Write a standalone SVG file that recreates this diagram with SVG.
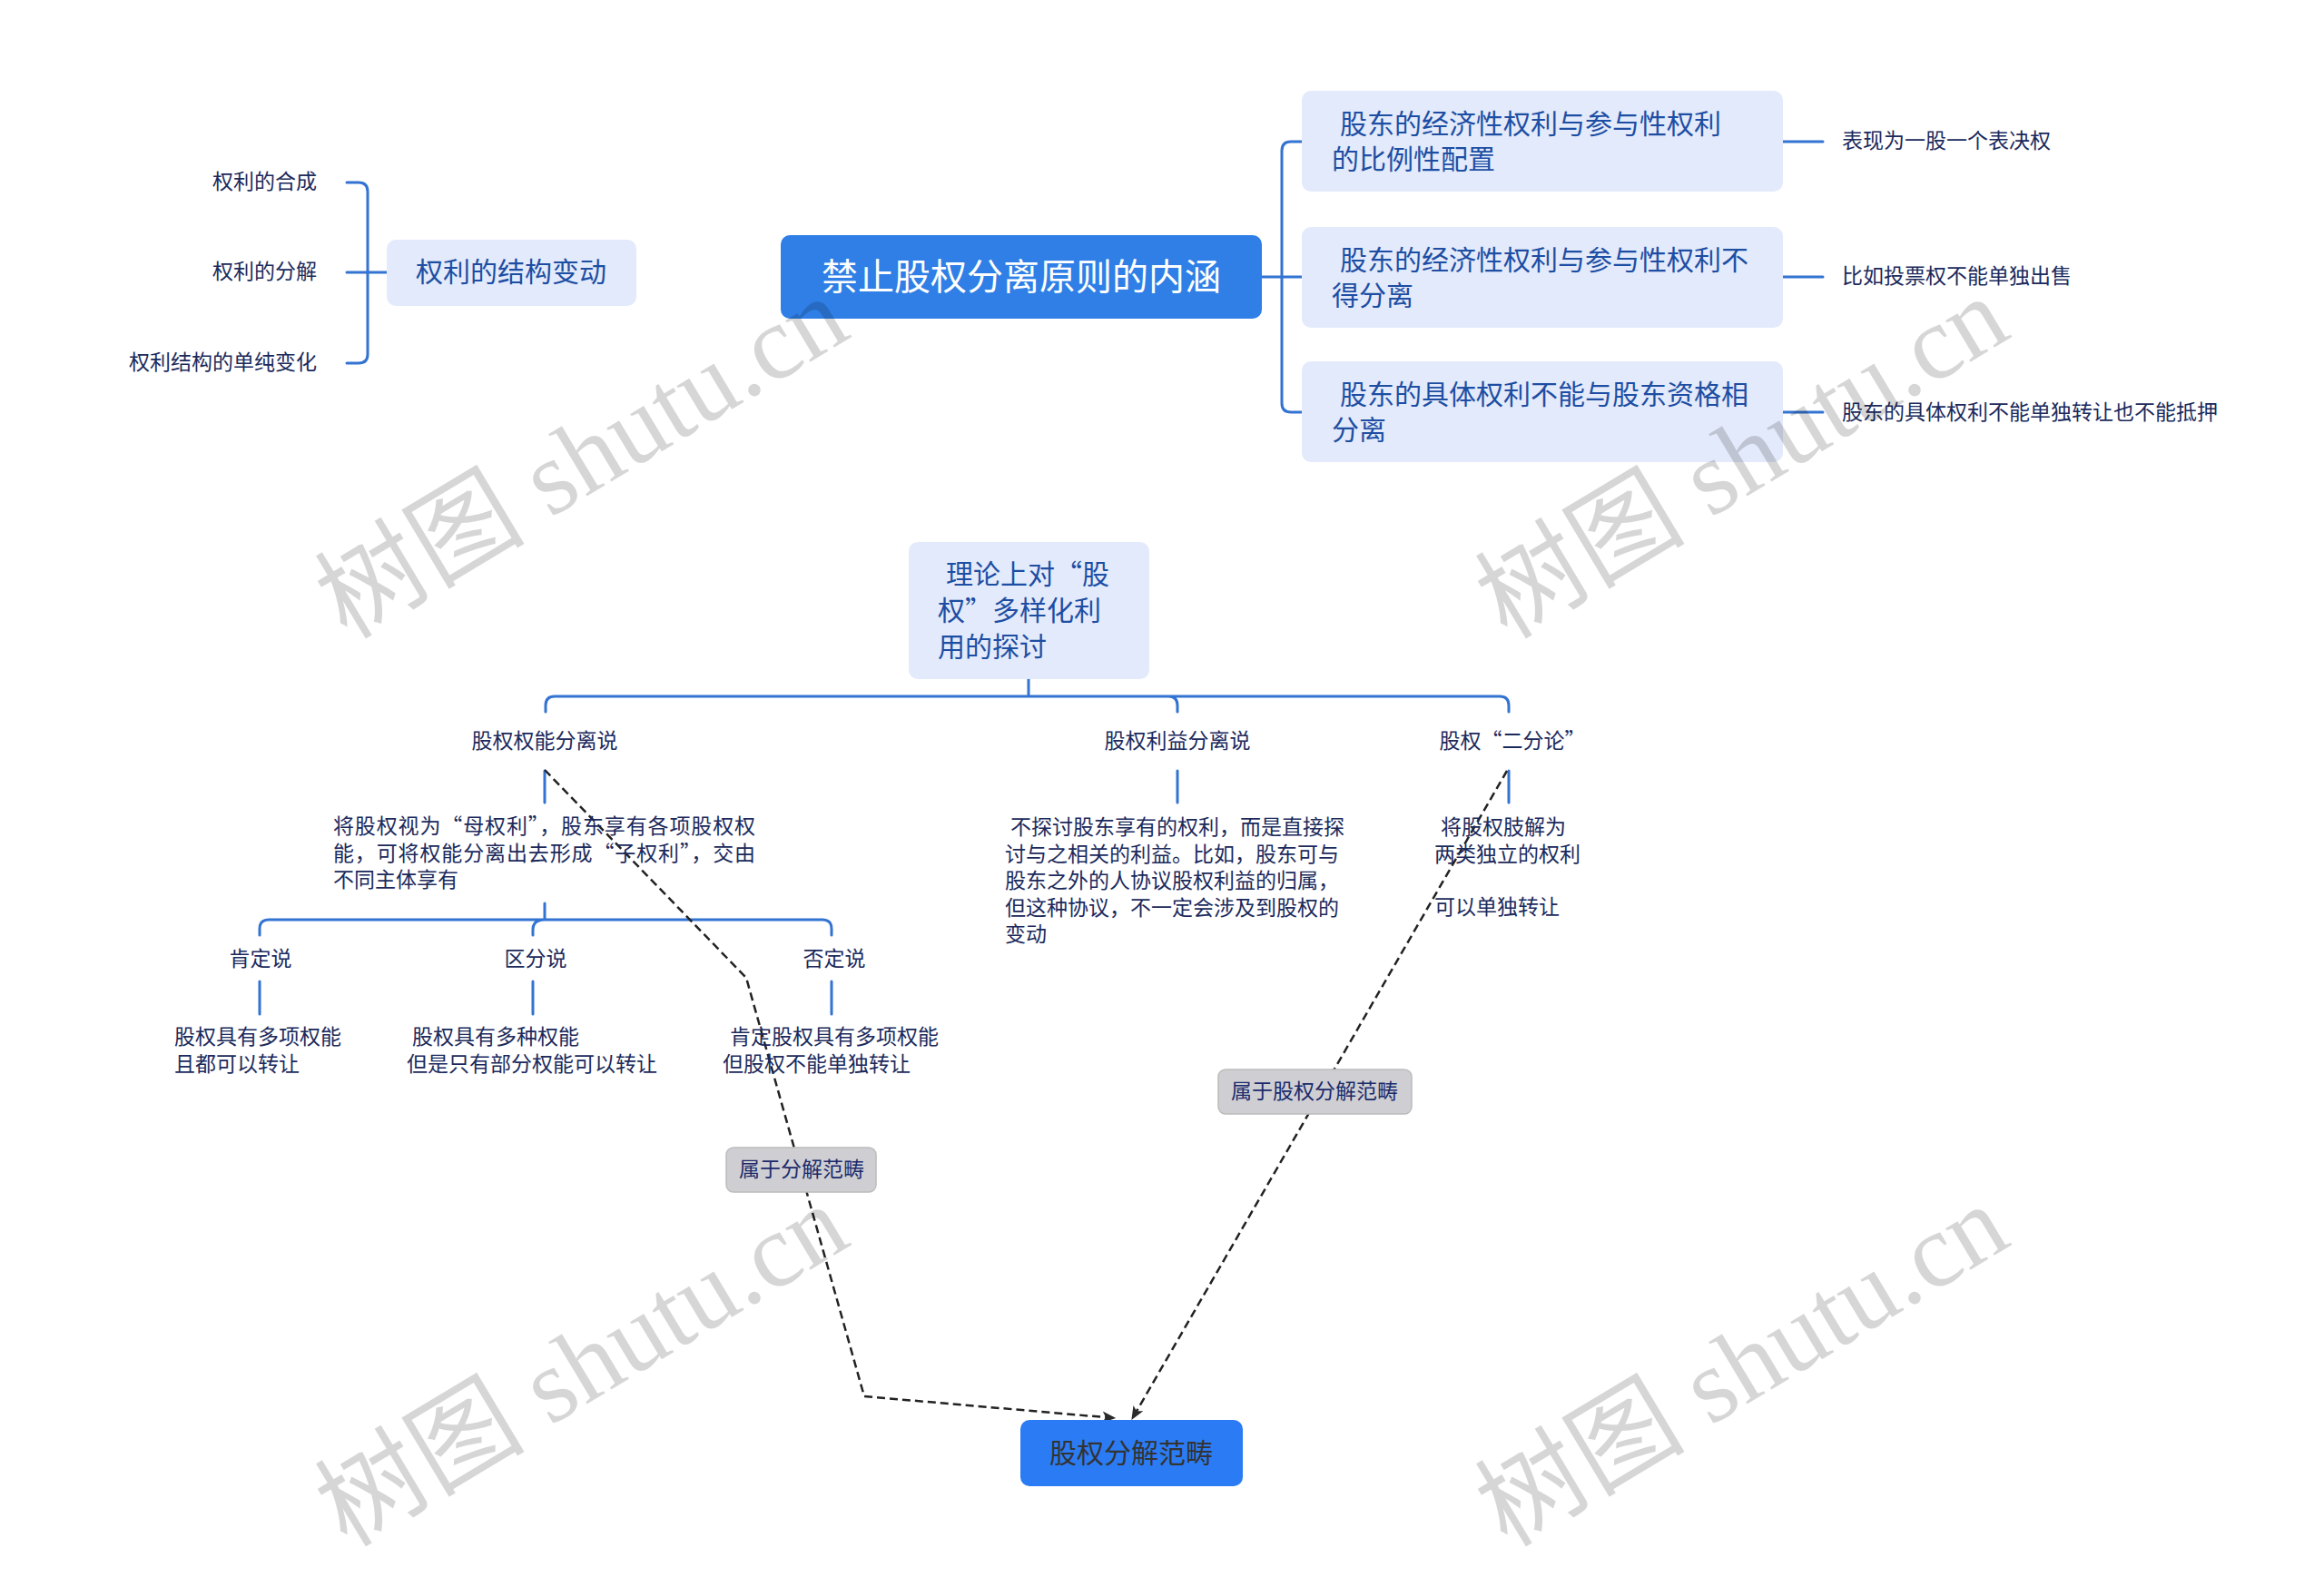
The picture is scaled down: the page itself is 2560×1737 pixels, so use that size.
<svg xmlns="http://www.w3.org/2000/svg" width="2560" height="1737" viewBox="0 0 2560 1737">
<style>
text{font-family:"Noto Sans CJK SC","Noto Sans",sans-serif;dominant-baseline:central}
.lbl,.bx,.tagt,.rt{transform:translateY(-3px)}
.lbl{font-size:23px;fill:#1b2a5c}
.bx{font-size:30px;fill:#1d4ea3}
.sub{fill:#e3eafb}
.ln{fill:none;stroke:#3373d2;stroke-width:3;stroke-linecap:round}
.dash{fill:none;stroke:#222;stroke-width:2.5;stroke-dasharray:9 5}
.tag{fill:#cfcfd3;stroke:#bcbcbc;stroke-width:1.5}
.tagt{font-size:23px;fill:#1b2a6b}
.wm{font-family:"Liberation Serif","Noto Sans CJK SC",serif;font-size:116px;fill:#000;fill-opacity:0.16}
</style>
<defs>
<marker id="arr" viewBox="0 0 12 12" refX="11" refY="6" markerWidth="15" markerHeight="15" markerUnits="userSpaceOnUse" orient="auto">
<path d="M0,1 L12,6 L0,11 L3,6 z" fill="#2a2a2a"/>
</marker>
</defs>
<rect width="2560" height="1737" fill="#fff"/>

<g id="connectors">
<path class="ln" d="M426,300 H405 M405,300 V211 Q405,201 395,201 H382 M405,300 H382 M405,300 V390 Q405,400 395,400 H382"/>
<path class="ln" d="M1390,305 H1412 M1412,305 V166 Q1412,156 1422,156 H1434 M1412,305 H1434 M1412,305 V444 Q1412,454 1422,454 H1434"/>
<path class="ln" d="M1964,156 H2008 M1964,305 H2008 M1964,454 H2008"/>
<path class="ln" d="M1133,748 V767 M1133,767 H611 Q601,767 601,777 V784 M1133,767 H1287 Q1297,767 1297,777 V784 M1133,767 H1652 Q1662,767 1662,777 V784"/>
<path class="ln" d="M600,849 V884 M1297,849 V884 M1662,849 V884"/>
<path class="ln" d="M600,995 V1013 M600,1013 H296 Q286,1013 286,1023 V1030 M600,1013 Q587,1013 587,1024 V1030 M600,1013 H906 Q916,1013 916,1023 V1030"/>
<path class="ln" d="M286,1081 V1117 M587,1081 V1117 M916,1081 V1117"/>
<path class="dash" d="M600,848 L822,1077 L952,1538 L1228,1562" marker-end="url(#arr)"/>
<path class="dash" d="M1660,849 L1247,1563" marker-end="url(#arr)"/>
</g>

<g id="root">
<rect x="860" y="259" width="530" height="92" rx="10" fill="#2f7fe6"/>
<text class="rt" x="1125" y="305" text-anchor="middle" font-size="40" fill="#fff">禁止股权分离原则的内涵</text>
</g>

<g id="n-structure">
<rect class="sub" x="426" y="264" width="275" height="73" rx="10"/>
<text class="bx" x="563" y="300" text-anchor="middle">权利的结构变动</text>
</g>
<g id="n-s1"><text class="lbl" x="349" y="201" text-anchor="end">权利的合成</text></g>
<g id="n-s2"><text class="lbl" x="349" y="300" text-anchor="end">权利的分解</text></g>
<g id="n-s3"><text class="lbl" x="349" y="400" text-anchor="end">权利结构的单纯变化</text></g>

<g id="n-r1">
<rect class="sub" x="1434" y="100" width="530" height="111" rx="10"/>
<text class="bx" x="1476" y="137">股东的经济性权利与参与性权利</text>
<text class="bx" x="1467" y="176">的比例性配置</text>
</g>
<g id="n-r2">
<rect class="sub" x="1434" y="250" width="530" height="111" rx="10"/>
<text class="bx" x="1476" y="287">股东的经济性权利与参与性权利不</text>
<text class="bx" x="1467" y="326">得分离</text>
</g>
<g id="n-r3">
<rect class="sub" x="1434" y="398" width="530" height="111" rx="10"/>
<text class="bx" x="1476" y="435">股东的具体权利不能与股东资格相</text>
<text class="bx" x="1467" y="474">分离</text>
</g>
<g id="n-r1a"><text class="lbl" x="2029" y="156">表现为一股一个表决权</text></g>
<g id="n-r2a"><text class="lbl" x="2029" y="305">比如投票权不能单独出售</text></g>
<g id="n-r3a"><text class="lbl" x="2029" y="455">股东的具体权利不能单独转让也不能抵押</text></g>

<g id="n-theory">
<rect class="sub" x="1001" y="597" width="265" height="151" rx="10"/>
<text class="bx" x="1042" y="633">理论上对“股</text>
<text class="bx" x="1033" y="673">权”多样化利</text>
<text class="bx" x="1033" y="713">用的探讨</text>
</g>

<g id="n-t1"><text class="lbl" x="600" y="817" text-anchor="middle">股权权能分离说</text></g>
<g id="n-t2"><text class="lbl" x="1297" y="817" text-anchor="middle">股权利益分离说</text></g>
<g id="n-t3"><text class="lbl" x="1666" y="817" text-anchor="middle">股权“二分论”</text></g>

<g id="n-t1a">
<text class="lbl" x="367" y="911" textLength="465" lengthAdjust="spacing">将股权视为“母权利”，股东享有各项股权权</text>
<text class="lbl" x="367" y="941" textLength="465" lengthAdjust="spacing">能，可将权能分离出去形成“子权利”，交由</text>
<text class="lbl" x="367" y="970">不同主体享有</text>
</g>
<g id="n-t2a">
<text class="lbl" x="1113" y="912">不探讨股东享有的权利，而是直接探</text>
<text class="lbl" x="1107" y="941.5">讨与之相关的利益。比如，股东可与</text>
<text class="lbl" x="1107" y="971">股东之外的人协议股权利益的归属，</text>
<text class="lbl" x="1107" y="1000.5">但这种协议，不一定会涉及到股权的</text>
<text class="lbl" x="1107" y="1030">变动</text>
</g>
<g id="n-t3a">
<text class="lbl" x="1587" y="912">将股权肢解为</text>
<text class="lbl" x="1580" y="942">两类独立的权利</text>
<text class="lbl" x="1580" y="1000">可以单独转让</text>
</g>

<g id="n-k1"><text class="lbl" x="287" y="1057" text-anchor="middle">肯定说</text></g>
<g id="n-k2"><text class="lbl" x="590" y="1057" text-anchor="middle">区分说</text></g>
<g id="n-k3"><text class="lbl" x="919" y="1057" text-anchor="middle">否定说</text></g>
<g id="n-k1a">
<text class="lbl" x="192" y="1143">股权具有多项权能</text>
<text class="lbl" x="192" y="1173">且都可以转让</text>
</g>
<g id="n-k2a">
<text class="lbl" x="454" y="1143">股权具有多种权能</text>
<text class="lbl" x="448" y="1173">但是只有部分权能可以转让</text>
</g>
<g id="n-k3a">
<text class="lbl" x="804" y="1143">肯定股权具有多项权能</text>
<text class="lbl" x="796" y="1173">但股权不能单独转让</text>
</g>

<g id="tag1">
<rect class="tag" x="800" y="1264" width="165" height="49" rx="8"/>
<text class="tagt" x="883" y="1289" text-anchor="middle">属于分解范畴</text>
</g>
<g id="tag2">
<rect class="tag" x="1342" y="1178" width="213" height="49" rx="8"/>
<text class="tagt" x="1448" y="1203" text-anchor="middle">属于股权分解范畴</text>
</g>

<g id="n-target">
<rect x="1124" y="1564" width="245" height="73" rx="10" fill="#2b7cf4"/>
<text class="rt" x="1246" y="1601" text-anchor="middle" font-size="30" fill="#333">股权分解范畴</text>
</g>

<g id="watermarks">
<text class="wm" x="362" y="672" transform="rotate(-31 362 672)">树图 shutu.cn</text>
<text class="wm" x="1640" y="672" transform="rotate(-31 1640 672)">树图 shutu.cn</text>
<text class="wm" x="362" y="1672" transform="rotate(-31 362 1672)">树图 shutu.cn</text>
<text class="wm" x="1640" y="1672" transform="rotate(-31 1640 1672)">树图 shutu.cn</text>
</g>
</svg>
